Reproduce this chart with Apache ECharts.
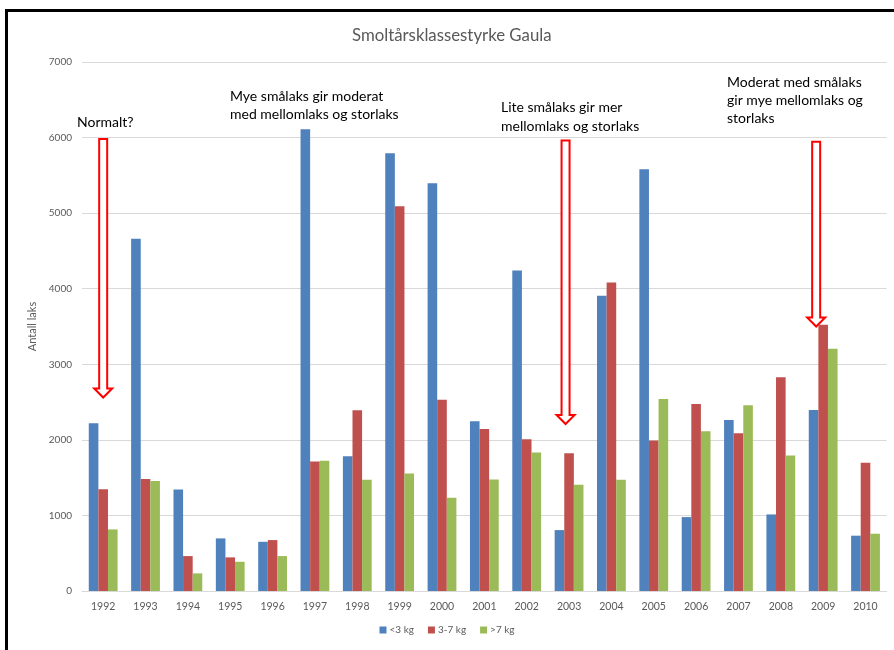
<!DOCTYPE html>
<html>
<head>
<meta charset="utf-8">
<script src="https://cdn.jsdelivr.net/npm/echarts@6/dist/echarts.min.js"></script>
<style>
html,body{margin:0;padding:0;background:#fff;}
#c{width:894px;height:650px;}
</style>
</head>
<body>
<div id="c"></div>
<script>
// ---- data ----
const years = ['1992','1993','1994','1995','1996','1997','1998','1999','2000','2001','2002','2003','2004','2005','2006','2007','2008','2009','2010'];
const small = [2220,4660,1343,696,651,6110,1783,5791,5395,2246,4240,806,3906,5580,978,2264,1013,2396,732];
const medium = [1347,1483,462,445,674,1713,2391,5091,2532,2145,2008,1823,4082,1991,2476,2087,2827,3523,1696];
const large = [815,1457,233,387,462,1722,1471,1555,1234,1476,1832,1405,1471,2542,2114,2457,1793,3206,758];
const seriesNames = ['<3 kg','3-7 kg','>7 kg'];
const yTicks = [0,1000,2000,3000,4000,5000,6000,7000];
const titleText = 'Smoltårsklassestyrke Gaula';
const yName = 'Antall laks';
// annotation arrows: year, top value, tip value
const arrowYears = ['1992','2003','2009'];
const arrowTop = [5980,5960,5945];
const arrowTip = [2560,2210,3500];
const notes = [
  'Normalt?',
  'Mye smålaks gir moderat\nmed mellomlaks og storlaks',
  'Lite smålaks gir mer\nmellomlaks og storlaks',
  'Moderat med smålaks\ngir mye mellomlaks og\nstorlaks'
];

const FONT = 'Lato, "Open Sans", sans-serif';
const colors = ['#4F81BD','#C0504D','#9BBB59'];
const chart = echarts.init(document.getElementById('c'), null, {renderer:'canvas'});

const option = {
  animation:false,
  color: colors,
  textStyle:{fontFamily:FONT},
  title:{
    text:titleText, left:347, top:22,
    textStyle:{fontSize:16.8, fontWeight:'normal', color:'#595959', fontFamily:FONT}
  },
  legend:{
    data:seriesNames, bottom:10, left:'center',
    icon:'rect', itemWidth:7, itemHeight:7, itemGap:14,
    textStyle:{fontSize:10, color:'#595959', fontFamily:FONT, padding:[0,0,0,-2]}
  },
  grid:{left:82, right:7.3, top:62, bottom:59, containLabel:false},
  xAxis:{
    type:'category', data:years,
    axisLine:{lineStyle:{color:'#D9D9D9'}},
    axisTick:{show:false},
    axisLabel:{color:'#595959', fontSize:10.5, margin:10, fontFamily:FONT}
  },
  yAxis:{
    type:'value', min:yTicks[0], max:yTicks[yTicks.length-1], interval:1000,
    name:yName, nameLocation:'middle', nameRotate:90, nameGap:42,
    nameTextStyle:{fontSize:11, color:'#595959', fontFamily:FONT},
    axisLine:{show:false}, axisTick:{show:false},
    axisLabel:{color:'#595959', fontSize:10, margin:10, fontFamily:FONT, formatter:(v)=>String(v)},
    splitLine:{lineStyle:{color:'#D9D9D9'}}
  },
  series:[
    {name:seriesNames[0], type:'bar', data:small, barGap:'0%', barCategoryGap:'32%'},
    {name:seriesNames[1], type:'bar', data:medium, barGap:'0%', barCategoryGap:'32%'},
    {name:seriesNames[2], type:'bar', data:large, barGap:'0%', barCategoryGap:'32%'}
  ]
};
chart.setOption(option);

// annotations
const arrowDx = [0,-3.5,-7];
const graphics = [];
// frame
graphics.push({type:'polyline', silent:true, z:100,
  shape:{points:[[6.5,650],[6.5,10.5],[894,10.5]]},
  style:{stroke:'#000', lineWidth:3, fill:null}});
arrowYears.forEach((y,i)=>{
  const p1 = chart.convertToPixel({gridIndex:0},[y,arrowTop[i]]);
  const p2 = chart.convertToPixel({gridIndex:0},[y,arrowTip[i]]);
  const cx = p1[0] + arrowDx[i];
  const top = p1[1], tip = p2[1];
  const w = 4, hw = 9, hh = 9;
  graphics.push({type:'polygon', z:50, silent:true,
    shape:{points:[[cx-w,top],[cx+w,top],[cx+w,tip-hh],[cx+hw,tip-hh],[cx,tip],[cx-hw,tip-hh],[cx-w,tip-hh]]},
    style:{stroke:'#FF0000', lineWidth:2, fill:'#fff'}});
});
const notePos = [[77,113,18],[230,87,18],[501,97.5,19],[727,73,18]];
notes.forEach((t,i)=>{
  graphics.push({type:'text', z:60, silent:true, x:notePos[i][0], y:notePos[i][1],
    style:{text:t, font:'14px '+FONT, fill:'#000', lineHeight:notePos[i][2], verticalAlign:'top', align:'left'}});
});
chart.setOption({graphic:graphics});
</script>
</body>
</html>
